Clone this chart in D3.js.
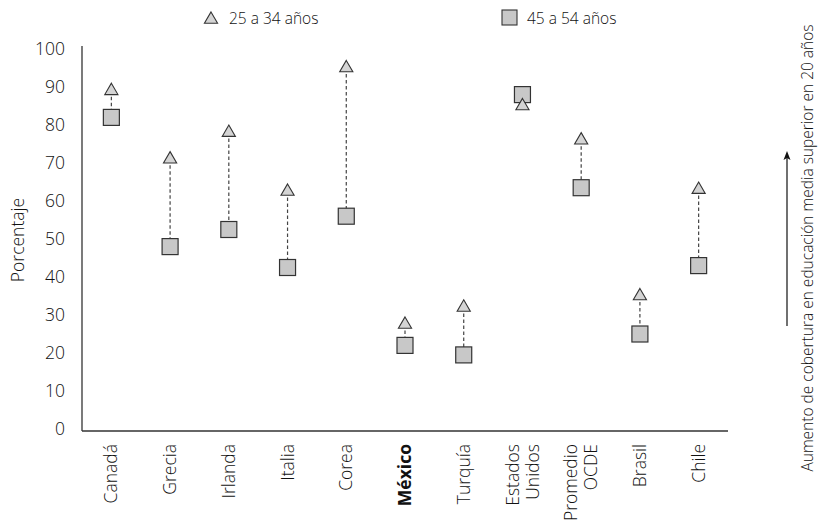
<!DOCTYPE html>
<html>
<head>
<meta charset="utf-8">
<script src="https://cdn.jsdelivr.net/npm/d3@7"></script>
<style>
  html, body { margin: 0; padding: 0; background: #fff; }
  svg { display: block; font-family: "Open Sans", "Noto Sans", sans-serif; font-weight: 300; }
</style>
</head>
<body>
<svg id="chart" width="822" height="522"></svg>
<script>
// ---- data ----
const categories = ["Canadá", "Grecia", "Irlanda", "Italia", "Corea", "México", "Turquía", "Estados Unidos", "Promedio OCDE", "Brasil", "Chile"];
const young = [89, 71, 78, 62.5, 95, 27.5, 32, 85, 76, 35, 63];      // 25 a 34 años
const older = [82, 48, 52.5, 42.5, 56, 22, 19.5, 88, 63.5, 25, 43];  // 45 a 54 años
const yTicks = [0, 10, 20, 30, 40, 50, 60, 70, 80, 90, 100];
const seriesNames = ["25 a 34 años", "45 a 54 años"];
const highlight = "México";
const yLabel = "Porcentaje";
const sideNote = "Aumento de cobertura en educación media superior en 20 años";

// ---- layout ----
const svg = d3.select("#chart");
const x0 = 82, x1 = 728, yTop = 49, yBot = 429;
const textColor = "#111";

const x = d3.scaleBand().domain(categories).range([x0, x1]).padding(0);
const y = d3.scaleLinear().domain([0, 100]).range([yBot, yTop]);
const cx = c => x(c) + x.bandwidth() / 2;

// y axis
const yAxis = d3.axisLeft(y).tickValues(yTicks).tickSize(0).tickPadding(17);
const gy = svg.append("g").attr("transform", `translate(${x0},0)`).call(yAxis);
gy.select(".domain").remove();
gy.selectAll("text").attr("font-size", 17.5).attr("fill", textColor)
  .attr("font-family", "'Open Sans', sans-serif").attr("font-weight", 300);

// axis lines
svg.append("line").attr("x1", x0).attr("x2", x0).attr("y1", yTop - 3).attr("y2", yBot + 2)
  .attr("stroke", "#333").attr("stroke-width", 1.3);
svg.append("line").attr("x1", x0).attr("x2", x1).attr("y1", yBot + 2).attr("y2", yBot + 2)
  .attr("stroke", "#333").attr("stroke-width", 1.3);

// x labels
const xl = svg.append("g").selectAll("text").data(categories).join("text")
  .attr("transform", d => `translate(${cx(d)},444) rotate(-90)`)
  .attr("text-anchor", "end")
  .attr("font-size", 17.5)
  .attr("fill", textColor)
  .attr("font-weight", d => d === highlight ? "bold" : 300);
xl.each(function(d) {
  const parts = d.split(" ");
  const n = parts.length;
  d3.select(this).selectAll("tspan").data(parts).join("tspan")
    .attr("x", 0)
    .attr("y", (p, i) => (i - (n - 1) / 2) * 20)
    .attr("dy", "0.35em")
    .text(p => p);
});

// y label
svg.append("text").attr("transform", "translate(24,240) rotate(-90)")
  .attr("text-anchor", "middle").attr("font-size", 17.5).attr("fill", textColor)
  .text(yLabel);

// dashed connectors
svg.append("g").selectAll("line").data(categories).join("line")
  .attr("x1", d => cx(d)).attr("x2", d => cx(d))
  .attr("y1", (d, i) => y(young[i])).attr("y2", (d, i) => y(older[i]))
  .attr("stroke", "#444").attr("stroke-width", 1.2).attr("stroke-dasharray", "3.5,2.5");

const tri = d3.symbol().type(d3.symbolTriangle).size(75);
const sqSize = 16;

// squares
svg.append("g").selectAll("rect").data(categories).join("rect")
  .attr("x", d => cx(d) - sqSize / 2)
  .attr("y", (d, i) => y(older[i]) - sqSize / 2)
  .attr("width", sqSize).attr("height", sqSize)
  .attr("fill", "#c8c8c8").attr("stroke", "#333").attr("stroke-width", 1.2);

// triangles
svg.append("g").selectAll("path").data(categories).join("path")
  .attr("d", tri)
  .attr("transform", (d, i) => `translate(${cx(d)},${y(young[i])})`)
  .attr("fill", "#d4d4d4").attr("stroke", "#333").attr("stroke-width", 1.1);

// legend
const lg = svg.append("g");
lg.append("path").attr("d", tri).attr("transform", "translate(211,19.5)")
  .attr("fill", "#d4d4d4").attr("stroke", "#333").attr("stroke-width", 1.1);
lg.append("text").attr("x", 229).attr("y", 19).attr("dy", "0.35em")
  .attr("font-size", 15.5).attr("fill", textColor).text(seriesNames[0]);
lg.append("rect").attr("x", 502).attr("y", 10).attr("width", 15).attr("height", 15)
  .attr("fill", "#c8c8c8").attr("stroke", "#333").attr("stroke-width", 1.1);
lg.append("text").attr("x", 527).attr("y", 19).attr("dy", "0.35em")
  .attr("font-size", 15.5).attr("fill", textColor).text(seriesNames[1]);

// side annotation: arrow
const ax = 787, ayTop = 151, ayBot = 326;
svg.append("line").attr("x1", ax).attr("x2", ax).attr("y1", ayBot).attr("y2", ayTop + 6)
  .attr("stroke", "#111").attr("stroke-width", 1.2);
svg.append("path")
  .attr("d", `M${ax},${ayTop} L${ax + 3.5},${ayTop + 9} L${ax},${ayTop + 7} L${ax - 3.5},${ayTop + 9} Z`)
  .attr("fill", "#111");
svg.append("text").attr("transform", "translate(813,248) rotate(-90)")
  .attr("text-anchor", "middle").attr("font-size", 15.5).attr("fill", textColor)
  .text(sideNote);
</script>
</body>
</html>
